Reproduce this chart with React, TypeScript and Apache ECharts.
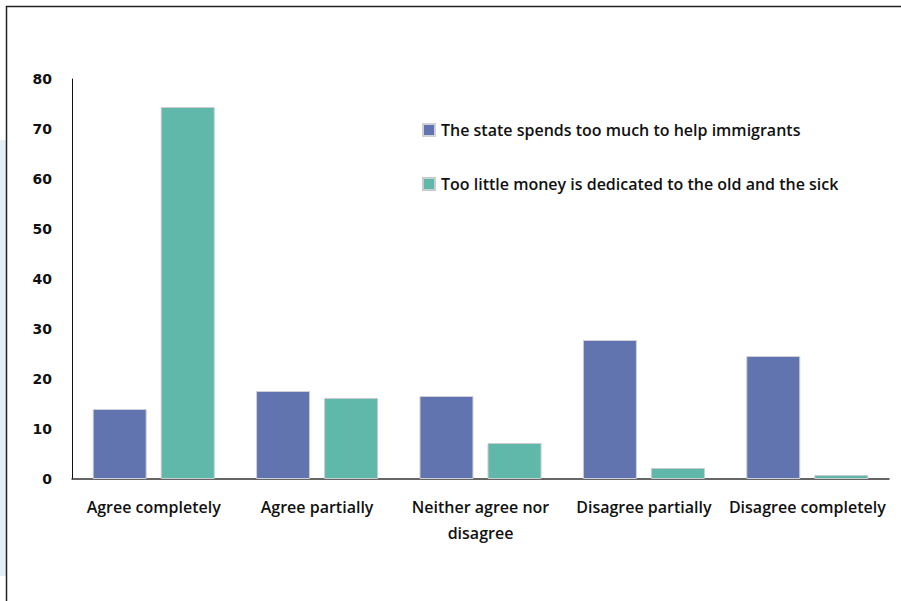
import React, { useEffect, useRef } from "react";
import * as echarts from "echarts";

const categories = [
  "Agree completely",
  "Agree partially",
  "Neither agree nor\ndisagree",
  "Disagree partially",
  "Disagree completely",
];
const seriesNames = [
  "The state spends too much to help immigrants",
  "Too little money is dedicated to the old and the sick",
];
const immigrantsValues = [14, 17.6, 16.6, 27.8, 24.6];
const oldSickValues = [74.4, 16.2, 7.2, 2.2, 0.8];
const colors = ["#6174b0", "#60b8aa"];

export default function App() {
  const ref = useRef<HTMLDivElement>(null);
  useEffect(() => {
    document.body.style.margin = "0";
    const chart = echarts.init(ref.current!, null, { renderer: "svg" });
    const labelFont = "'Open Sans', 'Noto Sans', sans-serif";
    chart.setOption({
      animation: false,
      backgroundColor: "#ffffff",
      graphic: [
        {
          type: "rect",
          shape: { x: 0, y: 140, width: 7, height: 436 },
          style: { fill: "#e3eef7" },
          silent: true,
        },
        {
          type: "rect",
          shape: { x: 6.5, y: 6.5, width: 900, height: 600 },
          style: { fill: "none", stroke: "#222", lineWidth: 1.5 },
          silent: true,
        },
      ],
      legend: {
        orient: "vertical",
        left: 417,
        top: 117,
        itemWidth: 12,
        itemHeight: 12,
        itemGap: 38,
        icon: "rect",
        textStyle: {
          fontFamily: labelFont,
          fontWeight: 600,
          fontSize: 16,
          color: "#111",
          padding: [0, 0, 0, 1],
        },
        data: seriesNames,
      },
      grid: { left: 72, right: 12, top: 79, bottom: 122, containLabel: false },
      xAxis: {
        type: "category",
        data: categories,
        axisLine: { show: true, lineStyle: { color: "#333", width: 1.5 } },
        axisTick: { show: false },
        axisLabel: {
          interval: 0,
          margin: 15,
          fontFamily: labelFont,
          fontWeight: 600,
          fontSize: 16,
          color: "#111",
          lineHeight: 26,
        },
      },
      yAxis: {
        type: "value",
        min: 0,
        max: 80,
        interval: 10,
        splitLine: { show: false },
        axisLine: { show: true, lineStyle: { color: "#111", width: 1 } },
        axisTick: { show: false },
        axisLabel: {
          margin: 20,
          fontFamily: "'DejaVu Sans', Verdana, sans-serif",
          fontWeight: "bold",
          fontSize: 14,
          color: "#111",
          padding: [4, 0, 0, 0],
        },
      },
      series: [
        {
          name: seriesNames[0],
          type: "bar",
          data: immigrantsValues,
          barWidth: 54,
          barGap: "26%",
          itemStyle: { color: colors[0], borderColor: "#cfd0d8", borderWidth: 1 },
        },
        {
          name: seriesNames[1],
          type: "bar",
          data: oldSickValues,
          barWidth: 54,
          barGap: "26%",
          itemStyle: { color: colors[1], borderColor: "#c8cccc", borderWidth: 1 },
        },
      ],
    });
    return () => chart.dispose();
  }, []);
  return <div ref={ref} style={{ width: 901, height: 601 }} />;
}
